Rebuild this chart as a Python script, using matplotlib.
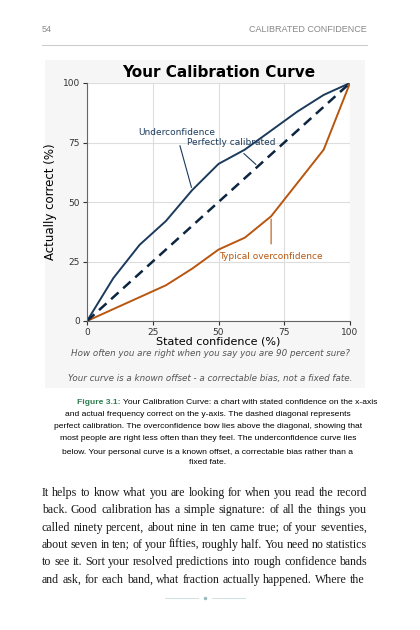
import matplotlib
matplotlib.use('Agg')
import matplotlib.pyplot as plt
from matplotlib.patches import Rectangle
import numpy as np

# data
stated = [0, 10, 20, 30, 40, 50, 60, 70, 80, 90, 100]
under = [0, 18, 32, 42, 55, 66, 72, 80, 88, 95, 100]
over = [0, 5, 10, 15, 22, 30, 35, 44, 58, 72, 100]
ticks = [0, 25, 50, 75, 100]

caption_lines = [
    "and actual frequency correct on the y-axis. The dashed diagonal represents",
    "perfect calibration. The overconfidence bow lies above the diagonal, showing that",
    "most people are right less often than they feel. The underconfidence curve lies",
    "below. Your personal curve is a known offset, a correctable bias rather than a",
    "fixed fate.",
]
body_lines = [
    "It helps to know what you are looking for when you read the record",
    "back. Good calibration has a simple signature: of all the things you",
    "called ninety percent, about nine in ten came true; of your seventies,",
    "about seven in ten; of your fifties, roughly half. You need no statistics",
    "to see it. Sort your resolved predictions into rough confidence bands",
    "and ask, for each band, what fraction actually happened. Where the",
]

W, H = 420, 630
fig = plt.figure(figsize=(4.2, 6.3), dpi=100)

def fx(x): return x / W
def fy(y): return 1 - y / H

# page header
fig.text(fx(42), fy(30), "54", fontsize=6.5, color='#888888', va='center',
         family='Liberation Sans')
fig.text(fx(367), fy(30), "CALIBRATED CONFIDENCE", fontsize=6.5, color='#888888',
         va='center', ha='right', family='Liberation Sans')
fig.add_artist(plt.Line2D([fx(42), fx(367)], [fy(45), fy(45)], color='#cccccc', lw=0.8))

# grey box behind chart
fig.add_artist(Rectangle((fx(45), fy(388)), fx(320), 328 / H, facecolor='#f5f6f5',
                         edgecolor='none', zorder=0))

blue = '#1b3a5c'
orange = '#b8560f'
ax = fig.add_axes([fx(87), fy(321), 263 / W, 238 / H])
ax.set_facecolor('white')
ax.plot(stated, under, color=blue, lw=1.4)
ax.plot(stated, over, color=orange, lw=1.4)
ax.plot([0, 100], [0, 100], color='#0d2540', lw=1.8, ls=(0, (4, 2.5)))
ax.set_xlim(0, 100)
ax.set_ylim(0, 100)
ax.set_xticks(ticks)
ax.set_yticks(ticks)
ax.tick_params(labelsize=6.5, colors='#333333', length=3, pad=2)
ax.grid(True, color='#dddddd', lw=0.8)
for s in ['top', 'right']:
    ax.spines[s].set_visible(False)
for s in ['left', 'bottom']:
    ax.spines[s].set_color('#666666')
ax.set_xlabel("Stated confidence (%)", fontsize=8, labelpad=0)
ax.set_ylabel("Actually correct (%)", fontsize=8.5)
ax.set_title("Your Calibration Curve", fontsize=11, fontweight='bold', pad=4)

ax.annotate("Underconfidence", xy=(40, 55), xytext=(34, 79), fontsize=6.5, color=blue,
            ha='center', va='center', arrowprops=dict(arrowstyle='-', color=blue, lw=0.8,
                                                      shrinkA=4))
ax.annotate("Perfectly calibrated", xy=(65, 65), xytext=(55, 75), fontsize=6.5,
            color=blue, ha='center', va='center',
            arrowprops=dict(arrowstyle='-', color=blue, lw=0.8, shrinkA=4))
ax.annotate("Typical overconfidence", xy=(70, 44), xytext=(70, 27), fontsize=6.5,
            color=orange, ha='center', va='center',
            arrowprops=dict(arrowstyle='-', color=orange, lw=0.8, shrinkA=4))

fig.text(fx(210), fy(354), "How often you are right when you say you are 90 percent sure?",
         fontsize=6.3, style='italic', color='#555555', ha='center', va='center')
fig.text(fx(210), fy(378), "Your curve is a known offset - a correctable bias, not a fixed fate.",
         fontsize=6.3, style='italic', color='#555555', ha='center', va='center')

# caption
cap_y = [403, 415, 427, 439, 452, 463]
cf = dict(fontsize=6.1, family='Liberation Sans', va='center')
fig.text(fx(121), fy(cap_y[0]), "Figure 3.1:", color='#2e7d4f', fontweight='bold',
         ha='right', **cf)
fig.text(fx(123), fy(cap_y[0]),
         "Your Calibration Curve: a chart with stated confidence on the x-axis",
         ha='left', **cf)
for y, line in zip(cap_y[1:], caption_lines):
    fig.text(fx(208), fy(y), line, ha='center', **cf)

# justified body text
r = fig.canvas.get_renderer()
x0, x1 = 42, 367
body_y = [493, 510, 528, 545, 562, 580]
for y, line in zip(body_y, body_lines):
    words = line.split()
    ts = [fig.text(0, fy(y), w, fontsize=8.6, family='Liberation Serif', va='center',
                   color='#1a1a1a')
          for w in words]
    widths = [t.get_window_extent(r).width for t in ts]
    gap = (x1 - x0 - sum(widths)) / (len(words) - 1)
    if line is body_lines[-1]:
        gap = min(gap, 3.2)
    x = x0
    for t, w in zip(ts, widths):
        t.set_x(fx(x))
        x += w + gap

# footer ornament
fig.add_artist(plt.Line2D([fx(165), fx(198)], [fy(598), fy(598)], color='#cfe0e0', lw=0.7))
fig.add_artist(plt.Line2D([fx(212), fx(245)], [fy(598), fy(598)], color='#cfe0e0', lw=0.7))
fig.add_artist(plt.Line2D([fx(205)], [fy(598)], marker='o', ms=1.5, color='#9bbcbc'))

fig.savefig("out.png", dpi=100)
